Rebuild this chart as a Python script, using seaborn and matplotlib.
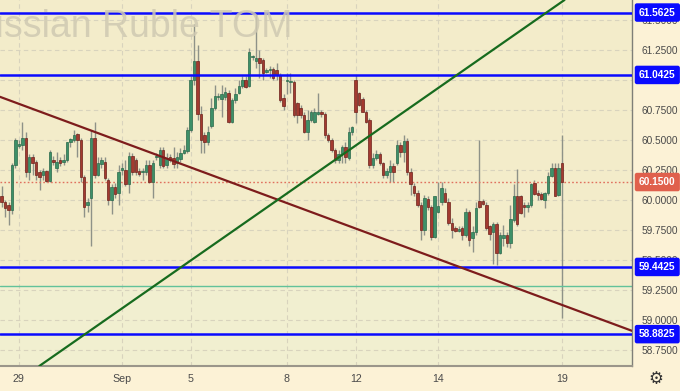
import matplotlib
matplotlib.use("Agg")
import matplotlib.pyplot as plt
import matplotlib.transforms as mtransforms
import numpy as np
import pandas as pd
import seaborn as sns

# ---------------- data ----------------
opens = [60.03, 59.98, 59.96, 59.92, 60.29, 60.45, 60.46, 60.52, 60.23, 60.36,
         60.32, 60.23, 60.21, 60.24, 60.16, 60.33, 60.27, 60.33, 60.32, 60.33,
         60.48, 60.50, 60.55, 60.50, 60.19, 59.96, 60.02, 60.52, 60.21, 60.30,
         60.32, 60.17, 60.00, 60.11, 60.06, 60.25, 60.25, 60.13, 60.37, 60.33,
         60.24, 60.23, 60.23, 60.29, 60.15, 60.36, 60.29, 60.42, 60.29, 60.36,
         60.35, 60.31, 60.34, 60.39, 60.41, 60.58, 61.00, 61.16, 60.72, 60.54,
         60.48, 60.62, 60.77, 60.86, 60.84, 60.86, 60.89, 60.65, 60.83, 60.89,
         60.95, 61.00, 60.95, 61.19, 61.16, 61.18, 61.17, 61.07, 61.08, 61.09,
         61.08, 61.04, 60.85, 60.99, 60.98, 60.98, 60.81, 60.77, 60.71, 60.57,
         60.67, 60.65, 60.72, 60.73, 60.72, 60.54, 60.50, 60.42, 60.33, 60.38,
         60.44, 60.35, 60.57, 61.00, 60.89, 60.84, 60.73, 60.67, 60.29, 60.35,
         60.38, 60.31, 60.21, 60.23, 60.28, 60.31, 60.46, 60.40, 60.49, 60.23,
         60.12, 60.06, 59.96, 59.75, 60.01, 59.94, 59.69, 59.90, 59.98, 60.06,
         59.98, 59.81, 59.77, 59.74, 59.77, 59.71, 59.90, 59.68, 59.73, 59.99,
         59.99, 59.96, 59.78, 59.73, 59.80, 59.56, 59.68, 59.71, 59.64, 59.83,
         60.03, 60.03, 59.96, 59.94, 59.96, 60.14, 60.06, 60.05, 60.00, 60.06,
         60.20, 60.27, 60.04, 60.31]
closes = [59.98, 59.93, 59.92, 60.29, 60.50, 60.47, 60.52, 60.23, 60.36, 60.31,
          60.21, 60.19, 60.24, 60.16, 60.40, 60.32, 60.32, 60.31, 60.33, 60.48,
          60.51, 60.54, 60.50, 60.19, 59.94, 59.98, 60.52, 60.21, 60.31, 60.33,
          60.18, 60.00, 60.11, 60.05, 60.23, 60.27, 60.13, 60.37, 60.23, 60.23,
          60.22, 60.24, 60.29, 60.15, 60.31, 60.37, 60.42, 60.28, 60.35, 60.33,
          60.30, 60.36, 60.39, 60.42, 60.58, 61.00, 61.16, 60.72, 60.50, 60.48,
          60.57, 60.77, 60.87, 60.87, 60.88, 60.90, 60.65, 60.83, 60.88, 60.95,
          61.00, 60.94, 61.23, 61.20, 61.18, 61.14, 61.06, 61.08, 61.09, 61.02,
          61.04, 60.83, 60.78, 61.00, 60.99, 60.71, 60.71, 60.71, 60.57, 60.67,
          60.73, 60.73, 60.73, 60.72, 60.54, 60.50, 60.42, 60.33, 60.38, 60.44,
          60.36, 60.57, 60.61, 60.73, 60.79, 60.73, 60.65, 60.29, 60.35, 60.38,
          60.31, 60.21, 60.24, 60.28, 60.23, 60.46, 60.40, 60.49, 60.23, 60.13,
          60.06, 59.96, 59.75, 60.02, 59.94, 59.69, 60.03, 59.95, 60.10, 59.98,
          59.81, 59.75, 59.74, 59.76, 59.71, 59.90, 59.67, 59.73, 59.93, 59.94,
          59.97, 59.77, 59.72, 59.80, 59.56, 59.71, 59.71, 59.64, 59.84, 60.03,
          59.80, 59.89, 59.94, 59.96, 60.13, 60.05, 60.04, 60.01, 60.06, 60.20,
          60.27, 60.03, 60.27, 60.15]
highs = [60.12, 60.00, 59.98, 60.31, 60.52, 60.50, 60.65, 60.57, 60.38, 60.38,
         60.33, 60.25, 60.27, 60.25, 60.42, 60.37, 60.40, 60.36, 60.38, 60.48,
         60.52, 60.58, 60.56, 60.52, 60.21, 60.02, 60.58, 60.65, 60.36, 60.36,
         60.36, 60.18, 60.13, 60.14, 60.29, 60.31, 60.33, 60.40, 60.39, 60.35,
         60.27, 60.27, 60.33, 60.33, 60.33, 60.39, 60.44, 60.44, 60.39, 60.38,
         60.44, 60.40, 60.43, 60.46, 60.61, 61.03, 61.47, 61.29, 60.78, 60.57,
         60.62, 60.85, 60.96, 60.89, 60.96, 60.94, 60.92, 60.85, 60.93, 61.00,
         61.03, 61.03, 61.27, 61.21, 61.56, 61.25, 61.18, 61.10, 61.12, 61.11,
         61.14, 61.06, 60.88, 61.06, 61.06, 61.00, 60.82, 60.79, 60.73, 60.75,
         60.75, 60.77, 60.89, 60.75, 60.73, 60.56, 60.52, 60.43, 60.42, 60.46,
         60.48, 60.61, 60.62, 61.04, 60.90, 60.86, 60.75, 60.68, 60.39, 60.42,
         60.40, 60.32, 60.27, 60.33, 60.31, 60.50, 60.48, 60.54, 60.52, 60.27,
         60.14, 60.08, 59.98, 60.04, 60.03, 59.96, 60.03, 60.15, 60.15, 60.10,
         60.02, 59.85, 59.78, 59.78, 59.78, 59.93, 59.92, 59.78, 59.98, 60.50,
         60.01, 59.98, 59.79, 59.82, 59.82, 59.73, 59.79, 59.73, 59.96, 60.13,
         60.26, 60.04, 59.98, 59.98, 60.14, 60.17, 60.08, 60.07, 60.07, 60.23,
         60.31, 60.31, 60.31, 60.54]
lows = [59.94, 59.86, 59.79, 59.88, 60.27, 60.43, 60.42, 60.19, 60.17, 60.21,
        60.17, 60.08, 60.17, 60.15, 60.15, 60.29, 60.23, 60.28, 60.29, 60.32,
        60.44, 60.48, 60.36, 60.15, 59.86, 59.90, 59.62, 60.18, 60.20, 60.27,
        60.17, 59.96, 59.88, 60.02, 59.96, 60.21, 60.12, 60.06, 60.21, 60.21,
        60.20, 60.17, 60.21, 60.14, 60.02, 60.33, 60.27, 60.27, 60.27, 60.32,
        60.27, 60.27, 60.32, 60.38, 60.39, 60.57, 60.96, 60.67, 60.39, 60.39,
        60.46, 60.60, 60.75, 60.83, 60.69, 60.83, 60.64, 60.64, 60.81, 60.88,
        60.93, 60.93, 60.94, 61.17, 61.10, 61.02, 61.00, 61.06, 61.02, 61.00,
        61.00, 60.82, 60.75, 60.88, 60.89, 60.69, 60.64, 60.68, 60.56, 60.50,
        60.65, 60.64, 60.71, 60.69, 60.52, 60.48, 60.40, 60.31, 60.31, 60.31,
        60.31, 60.33, 60.54, 60.64, 60.78, 60.73, 60.64, 60.27, 60.27, 60.33,
        60.29, 60.18, 60.18, 60.15, 60.15, 60.29, 60.36, 60.32, 60.21, 60.04,
        60.03, 59.94, 59.67, 59.71, 59.92, 59.67, 59.68, 59.89, 59.96, 59.98,
        59.79, 59.68, 59.73, 59.73, 59.67, 59.69, 59.62, 59.57, 59.71, 59.93,
        59.96, 59.75, 59.67, 59.47, 59.46, 59.55, 59.62, 59.61, 59.60, 59.82,
        59.78, 59.88, 59.86, 59.90, 59.94, 60.04, 60.00, 60.00, 59.93, 60.04,
        60.19, 60.03, 60.03, 59.02]

date_labels = ["29", "Sep", "5", "8", "12", "14", "19"]
date_bars = [5, 35, 55, 83, 103, 127, 163]          # bar index of each date label

levels = [61.5625, 61.0425, 59.4425, 58.8825]          # blue horizontal levels
thin_level = 59.28                                      # thin green line
last_price = 60.15
price_ticks = [58.75, 59.00, 59.25, 59.50, 59.75, 60.00, 60.25, 60.50, 60.75, 61.00, 61.25, 61.50]

# trend lines, each defined by two (bar index, price) anchors
red_trend = [(-0.5, 60.86), (183.4, 58.91)]
green_trend = [(10.6, 58.61), (163.9, 61.67)]

title = "Russian Ruble TOM"

# ---------------- style ----------------
sns.set_theme(style="white")
plt.rcParams["font.family"] = ["Liberation Sans", "DejaVu Sans"]

BG = "#f3ecca"
BG_LOW = "#f1efd0"
PANEL = "#fcf2d6"
GREEN_C = "#3d9068"
GREEN_E = "#2a6a4b"
RED_C = "#a33a30"
RED_E = "#6e211b"
WICK = "#8e9288"
FS = 7.3

df = pd.DataFrame({"open": opens, "high": highs, "low": lows, "close": closes})
df["idx"] = np.arange(len(df))
df["up"] = df["close"] >= df["open"]

fig = plt.figure(figsize=(6.8, 3.91), dpi=100, facecolor=PANEL)
ax = fig.add_axes([0, 25 / 391, 632 / 680, 366 / 391])
ax.set_facecolor(BG)

ymin, ymax = 58.617, 61.667
ax.set_ylim(ymin, ymax)
ax.set_xlim(-0.5, 183.4)

# lower shaded band below thin level
ax.axhspan(ymin, thin_level, color=BG_LOW, zorder=0, lw=0)

# grid
for p in price_ticks:
    ax.axhline(p, color="#d8d3bd", lw=0.8, ls=(0, (4, 3)), zorder=0.5)
for b in date_bars:
    ax.axvline(b, color="#d8d3bd", lw=0.8, ls=(0, (4, 3)), zorder=0.5)

# watermark
fig.text(293 / 680, 1 - 37 / 391, title, ha="right", va="baseline",
         fontsize=27, color="#cfc9b2", alpha=0.85, zorder=0.6,
         family=["Liberation Sans", "DejaVu Sans"])

# candles
ax.vlines(df["idx"], df["low"], df["high"], color=WICK, lw=1.0, zorder=2)
body_h = (df["close"] - df["open"]).abs().clip(lower=0.008)
body_b = df[["open", "close"]].min(axis=1)
colors = np.where(df["up"], GREEN_C, RED_C)
edges = np.where(df["up"], GREEN_E, RED_E)
ax.bar(df["idx"], body_h, bottom=body_b, width=0.72, color=colors,
       edgecolor=edges, linewidth=0.5, zorder=3)

# lines
ax.axhline(thin_level, color="#62c29a", lw=1.0, zorder=2.5)
ax.axhline(last_price, color="#e0705e", lw=1.0, ls=(0, (1.2, 1.6)), zorder=2.5)
for lv in levels:
    ax.axhline(lv, color="#0a0aff", lw=1.8, zorder=4)
ax.axline(red_trend[0], red_trend[1], color="#7d1c1c", lw=1.6, zorder=4)
ax.axline(green_trend[0], green_trend[1], color="#176b1e", lw=1.6, zorder=4)

# axes / spines
for s in ["top", "left"]:
    ax.spines[s].set_visible(False)
ax.spines["right"].set_color("#7f7f78")
ax.spines["right"].set_linewidth(1.0)
ax.spines["bottom"].set_color("#9a968a")
ax.spines["bottom"].set_linewidth(1.5)

ax.yaxis.tick_right()
ax.set_yticks(price_ticks)
ax.set_yticklabels([f"{p:.4f}" for p in price_ticks])
ax.tick_params(axis="y", length=0, pad=7, labelsize=FS, labelcolor="#4a4a4a")
ax.set_xticks(date_bars)
ax.set_xticklabels(date_labels)
ax.tick_params(axis="x", length=0, pad=6, labelsize=FS + 0.4, labelcolor="#4a4a4a")

# price labels on the scale
trans = mtransforms.blended_transform_factory(ax.transAxes, ax.transData)
box_x = 1.0 + 7 / 632
for lv in levels:
    ax.text(box_x, lv, f"{lv:.4f}", transform=trans, ha="left", va="center",
            fontsize=FS, fontweight="bold", color="white", clip_on=False, zorder=10,
            bbox=dict(boxstyle="round,pad=0.35,rounding_size=0.15", fc="#0a0aff", ec="#0a0aff"))
ax.text(box_x, last_price, f"{last_price:.4f}", transform=trans, ha="left", va="center",
        fontsize=FS, fontweight="bold", color="white", clip_on=False, zorder=10,
        bbox=dict(boxstyle="round,pad=0.35,rounding_size=0.15", fc="#e0604c", ec="#e0604c"))

# settings gear
fig.text(656 / 680, 1 - 379 / 391, "\u2699", ha="center", va="center",
         fontsize=12, color="#333333", family=["DejaVu Sans"])

fig.savefig("out.png", dpi=100, facecolor=PANEL)
